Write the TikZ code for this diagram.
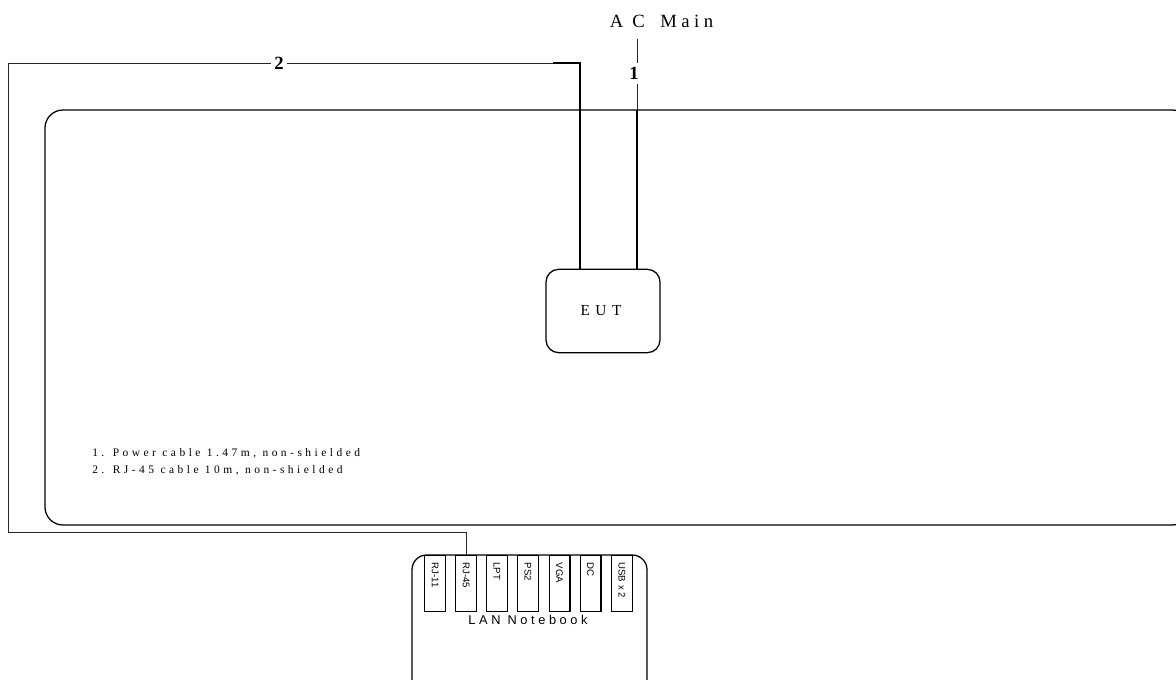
\documentclass[tikz,border=0pt]{standalone}
\usepackage{fontspec}
\setmainfont{Liberation Serif}
\newfontfamily\spserif[LetterSpace=30.4]{Liberation Serif}
\newfontfamily\speut[LetterSpace=36]{Liberation Serif}
\newfontfamily\spserifw[LetterSpace=24]{Liberation Serif}
\newfontfamily\spsans[LetterSpace=28]{Liberation Sans}
\setsansfont{Liberation Sans}
\tikzset{
  px/.style={x=0.75pt,y=-0.75pt},
  thickbox/.style={draw=black,line width=0.95pt},
  cable/.style={draw=black!85,line width=0.65pt},
  heavycable/.style={draw=black,line width=0.95pt},
  portbox/.style={draw=black,line width=1pt,minimum width=15.5pt,minimum height=42pt,inner sep=0pt,anchor=north},
  portlabel/.style={font=\sffamily\fontsize{7.2}{8}\selectfont,rotate=-90,anchor=west,inner sep=0pt},
  cablenum/.style={font=\bfseries\fontsize{14}{14}\selectfont,fill=white,inner xsep=2.5pt,inner ysep=3.5pt},
}
\begin{document}
\begin{tikzpicture}[px]
\useasboundingbox (0,0) rectangle (1176,680);
\clip (0,0) rectangle (1176,680);
% enclosure
\draw[thickbox,rounded corners=13.5pt] (45,110) rectangle (1190,525);
\node[thickbox,rounded corners=9.5pt,minimum width=85.5pt,minimum height=62.5pt,inner sep=0pt] (eut) at (603,311)
  {\speut\fontsize{11.5}{12}\selectfont\hspace*{-3pt}EUT};
\draw[thickbox,rounded corners=11pt] (412,555) rectangle (647,700);
% ports
\foreach \nm/\cx/\tx in {p1/435/RJ-11,p2/466/RJ-45,p3/497/LPT,p4/528/PS2,p5/559.5/VGA,p6/590.5/DC,p7/622/USB x 2}{
  \node[portbox,fill=white] (\nm) at (\cx,555) {};
  \node[portlabel] at ([yshift=-5.5pt]\nm.north) {\tx};
}
\node[inner sep=0pt] (nbl) at (528,619.5) {\spsans\fontsize{9.6}{10}\selectfont LAN Notebook};
% AC main
\node[inner sep=0pt] (ac) at (661.5,21.5) {\spserifw\fontsize{14}{14}\selectfont A C\,\, Main};
\coordinate (actop) at (637,39);
\coordinate (eutp) at (637,269);
\coordinate (eutr) at (580,269);
\coordinate (c2a) at (580,63);
\coordinate (c2b) at (8,63);
\coordinate (c2c) at (8,532);
\coordinate (c2d) at (466,532);
% cable 1
\draw[cable] (actop) -- (637,110);
\draw[heavycable] (637,110) -- (eutp);
\node[cablenum] (n1) at (634,73.5) {1};
% cable 2
\draw[heavycable] (eutr) -- (c2a) -- (553,63);
\draw[cable] (553,63) -- (c2b) -- (c2c) -- (c2d) -- (p2.north);
\node[cablenum,inner ysep=1pt] (n2) at (279,63) {2};
% notes
\node[anchor=north west,inner sep=0pt,align=left,font=\spserif\fontsize{8.6}{12.45}\selectfont] (notes) at (92,448.5)
  {1. Power cable 1.47m, non-shielded\\2. RJ-45 cable 10m, non-shielded};
\end{tikzpicture}
\end{document}
